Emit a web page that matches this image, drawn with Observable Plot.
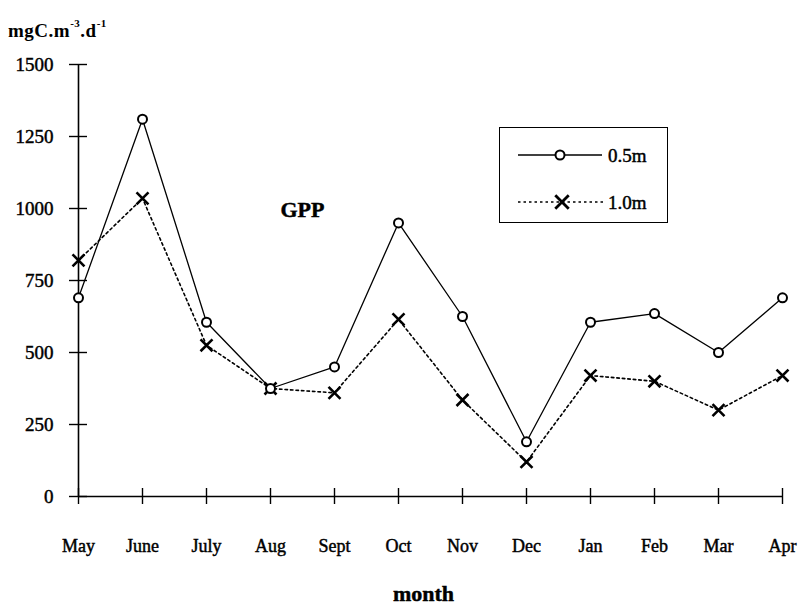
<!DOCTYPE html>
<html>
<head>
<meta charset="utf-8">
<script src="https://cdn.jsdelivr.net/npm/d3@7"></script>
<script src="https://cdn.jsdelivr.net/npm/@observablehq/plot@0.6"></script>
<style>
  html, body { margin: 0; padding: 0; background: #fff; }
  #wrap { position: relative; width: 805px; height: 609px; font-family: "Liberation Serif", "DejaVu Serif", serif; color: #000; }
  #ylab { position: absolute; left: 8px; top: 20px; font-size: 19px; font-weight: bold; letter-spacing: 0.5px; }
  #ylab sup { font-size: 11px; position: relative; top: -3px; }
  #legend { position: absolute; left: 499px; top: 127px; width: 169px; height: 96px; border: 1.5px solid #000; box-sizing: border-box; }
  .thick text { stroke: #000; stroke-width: 0.45px; }
</style>
</head>
<body>
<div id="wrap">
  <div id="chart"></div>
  <div id="ylab">mgC.m<sup>-3</sup>.d<sup>-1</sup></div>
  <div id="legend"></div>
</div>
<script>
const months = ["May","June","July","Aug","Sept","Oct","Nov","Dec","Jan","Feb","Mar","Apr"];
const gpp05 = [690,1310,605,375,450,950,625,190,605,635,500,690];
const gpp10 = [820,1035,525,375,360,615,335,120,420,400,300,420];
const yTicks = [0,250,500,750,1000,1250,1500];
const seriesNames = ["0.5m","1.0m"];

const d05 = months.map((m, i) => ({month: m, v: gpp05[i]}));
const d10 = months.map((m, i) => ({month: m, v: gpp10[i]}));

const chart = Plot.plot({
  width: 805,
  height: 609,
  marginLeft: 78,
  marginRight: 23,
  marginTop: 64,
  marginBottom: 113,
  className: "thick",
  style: {fontFamily: "'Liberation Serif', serif", fontSize: "18px", color: "#000", background: "#fff"},
  x: {type: "point", domain: months, padding: 0},
  y: {domain: [0, 1500]},
  marks: [
    Plot.ruleY([0], {stroke: "#000", strokeWidth: 1.6}),
    Plot.ruleX([months[0]], {stroke: "#000", strokeWidth: 1.6}),
    // crossing tick marks
    Plot.ruleY(yTicks, {y: d => d, x1: () => months[0], x2: () => months[0], insetLeft: -9, insetRight: -9, stroke: "#000", strokeWidth: 1.4}),
    Plot.ruleX(months, {x: d => d, y1: () => 0, y2: () => 0, insetTop: -8, insetBottom: -8, stroke: "#000", strokeWidth: 1.4}),
    Plot.axisY({ticks: yTicks, tickSize: 0, tickPadding: 25, label: null, fontSize: 19, tickFormat: d => String(d)}),
    Plot.axisX({tickSize: 0, tickPadding: 43, label: null, fontSize: 18}),
    Plot.text(["month"], {frameAnchor: "bottom", dx: -7, dy: 104, fontSize: 22, fontWeight: "bold", style: "letter-spacing:2px"}),
    Plot.text(["GPP"], {x: () => "Aug", y: () => 995, dx: 32, fontSize: 22, fontWeight: "bold"}),
    Plot.line(d10, {x: "month", y: "v", stroke: "#000", strokeWidth: 1.6, strokeDasharray: "2.5,3"}),
    Plot.line(d05, {x: "month", y: "v", stroke: "#000", strokeWidth: 1.3}),
    Plot.dot(d10, {x: "month", y: "v", symbol: "times", r: 5.5, stroke: "#000", strokeWidth: 2.6}),
    Plot.dot(d05, {x: "month", y: "v", r: 4.5, fill: "#fff", stroke: "#000", strokeWidth: 2})
  ]
});
document.getElementById("chart").appendChild(chart);

// legend
const lg = d3.select("#legend").append("svg").attr("width", 166).attr("height", 93)
  .style("font-family", "'Liberation Serif', serif").style("font-size", "19px");
const rows = [{y: 27, dash: null, sym: "circle"}, {y: 74, dash: "2.5,3", sym: "times"}];
rows.forEach((r, i) => {
  lg.append("line").attr("x1", 18).attr("x2", i ? 104 : 102).attr("y1", r.y).attr("y2", r.y)
    .attr("stroke", "#000").attr("stroke-width", i ? 1.6 : 1.3).attr("stroke-dasharray", r.dash);
  if (r.sym === "circle") {
    lg.append("circle").attr("cx", 60).attr("cy", r.y).attr("r", 4.5).attr("fill", "#fff").attr("stroke", "#000").attr("stroke-width", 2);
  } else {
    lg.append("path").attr("d", d3.symbol(d3.symbolTimes, 120)()).attr("transform", `translate(62,${r.y})`)
      .attr("fill", "none").attr("stroke", "#000").attr("stroke-width", 2.8);
  }
  lg.append("text").attr("x", 108).attr("y", r.y).attr("dy", "0.35em")
    .attr("stroke", "#000").attr("stroke-width", 0.45).text(seriesNames[i]);
});
</script>
</body>
</html>
